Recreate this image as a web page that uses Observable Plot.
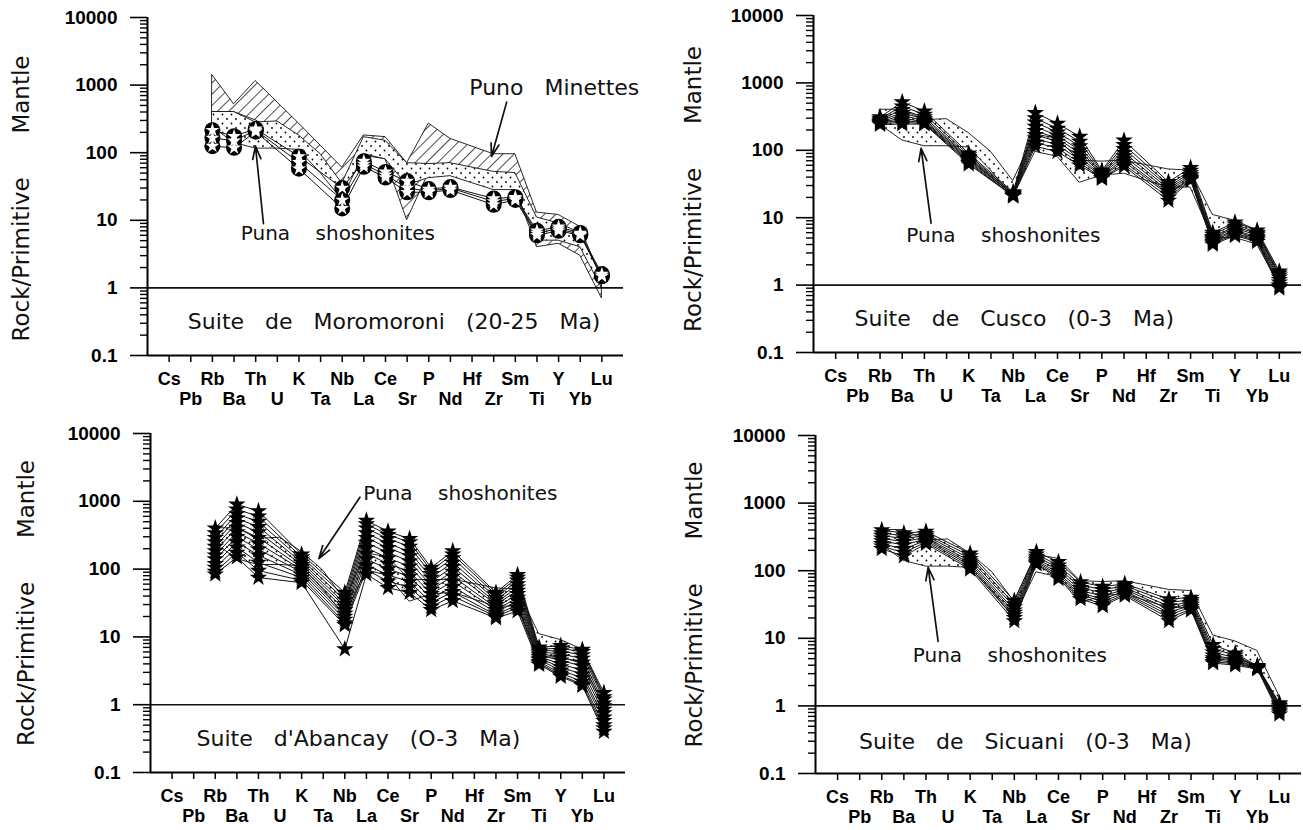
<!DOCTYPE html>
<html><head><meta charset="utf-8">
<script src="https://cdn.jsdelivr.net/npm/d3@7"></script>
<script src="https://cdn.jsdelivr.net/npm/@observablehq/plot@0.6"></script>
<style>
body{margin:0;background:#fff;}
#wrap{position:relative;width:1303px;height:830px;overflow:hidden;background:#fff;}
.panel{position:absolute;}
#defs{position:absolute;left:0;top:0;}
</style></head><body>
<div id="wrap">
<svg id="defs" width="0" height="0">
  <defs>
    <pattern id="hatch" patternUnits="userSpaceOnUse" width="8" height="8" patternTransform="rotate(45)">
      <rect width="8" height="8" fill="#fff"/>
      <line x1="0" y1="0" x2="0" y2="8" stroke="#000" stroke-width="1.4"/>
    </pattern>
    <pattern id="stipple" patternUnits="userSpaceOnUse" width="9" height="9">
      <rect width="9" height="9" fill="#fff"/>
      <circle cx="2" cy="2" r="0.9" fill="#000"/>
      <circle cx="6.5" cy="6.5" r="0.9" fill="#000"/>
    </pattern>
  </defs>
</svg>
</div>
<script>
// ---- Data ----
const elements = ["Cs","Pb","Rb","Ba","Th","U","K","Ta","Nb","La","Ce","Sr","P","Nd","Hf","Zr","Sm","Ti","Y","Yb","Lu"];
const sampleElements = ["Rb","Ba","Th","K","Nb","La","Ce","Sr","P","Nd","Zr","Sm","Ti","Y","Yb","Lu"];

const punaElements = ["Rb","Ba","Th","U","K","Ta","Nb","La","Ce","Sr","P","Nd","Zr","Sm","Ti","Y","Yb","Lu"];
const punaUpper = [400, 400, 280, 290, 180, 95, 35, 170, 150, 70, 68, 70, 52, 50, 11, 9, 6.5, 1.4];
const punaLower = [240, 140, 115, 115, 110, 50, 20, 95, 80, 33, 42, 45, 28, 28, 5, 5, 4, 1.0];

const minetteElements = ["Rb","Ba","Th","K","Nb","La","Ce","Sr","P","Nd","Zr","Sm","Ti","Y","Yb","Lu"];
const minetteUpper = [1400, 520, 1150, 270, 60, 180, 170, 70, 270, 160, 95, 95, 13, 12, 8, 1.3];
const minetteLower = [400, 400, 300, 150, 30, 90, 80, 10, 50, 50, 35, 30, 4, 4.5, 3, 0.7];

const moromoroni = [
  [215, 175, 225, 88, 30, 75, 52, 38, 29, 31, 21, 22, 7, 8, 6.5, 1.6],
  [165, 150, 215, 72, 20, 68, 47, 30, 27, 30, 19, 21, 6.5, 7.5, 6.2, 1.5],
  [125, 118, 205, 58, 15, 62, 43, 26, 26, 28, 17, 20, 6, 7, 6, 1.5]
];
const cusco = [
  [310, 520, 380, 90, 24, 360, 250, 160, 50, 140, 34, 55, 6, 8.5, 6.5, 1.6],
  [295, 450, 340, 85, 23, 300, 210, 135, 48, 120, 31, 50, 5.6, 8, 6, 1.5],
  [285, 400, 310, 80, 23, 260, 185, 115, 46, 105, 29, 46, 5.2, 7.4, 5.8, 1.4],
  [275, 360, 290, 77, 22, 225, 165, 100, 45, 92, 27, 43, 5, 7, 5.5, 1.3],
  [265, 330, 275, 74, 22, 195, 150, 90, 44, 82, 25, 41, 4.8, 6.5, 5.2, 1.2],
  [260, 300, 265, 71, 22, 170, 135, 80, 42, 74, 23, 39, 4.6, 6.2, 5, 1.1],
  [255, 280, 255, 68, 21, 150, 120, 72, 41, 68, 22, 38, 4.4, 5.8, 4.8, 1.0],
  [248, 260, 250, 65, 21, 130, 108, 65, 39, 62, 20, 37, 4.2, 5.6, 4.6, 0.95],
  [240, 245, 245, 62, 21, 115, 95, 60, 38, 58, 18, 36, 4, 5.4, 4.4, 0.9]
];
const abancay = [
  [400, 900, 720, 165, 45, 520, 360, 280, 105, 185, 45, 82, 7, 7.4, 6.5, 1.5],
  [340, 760, 600, 150, 40, 460, 320, 250, 95, 165, 42, 75, 6.6, 6.8, 6, 1.3],
  [290, 650, 500, 138, 35, 400, 280, 215, 85, 145, 38, 68, 6.3, 6.2, 5.4, 1.2],
  [250, 560, 420, 126, 31, 340, 240, 180, 75, 125, 35, 60, 6, 5.6, 4.8, 1.05],
  [215, 480, 350, 116, 28, 290, 205, 155, 65, 108, 32, 54, 5.7, 5, 4.2, 0.95],
  [185, 410, 290, 106, 25, 245, 175, 130, 57, 92, 30, 48, 5.4, 4.5, 3.7, 0.85],
  [160, 350, 240, 98, 22, 205, 145, 110, 50, 78, 27, 43, 5.1, 4, 3.2, 0.75],
  [140, 300, 195, 90, 20, 170, 120, 92, 43, 66, 25, 38, 4.8, 3.6, 2.8, 0.65],
  [120, 250, 160, 82, 18, 140, 100, 78, 37, 55, 23, 34, 4.6, 3.2, 2.5, 0.58],
  [105, 210, 125, 75, 16, 115, 82, 65, 32, 46, 21, 30, 4.3, 2.9, 2.2, 0.5],
  [92, 175, 95, 68, 15, 98, 66, 54, 28, 40, 20, 27, 4.1, 2.7, 2, 0.45],
  [84, 150, 75, 63, 6.6, 84, 53, 45, 25, 34, 19, 24, 3.9, 2.6, 1.9, 0.4]
];
const sicuani = [
  [400, 360, 380, 180, 36, 190, 135, 68, 58, 64, 38, 40, 8, 6, 3.9, 1.1],
  [360, 330, 350, 165, 32, 175, 120, 62, 52, 60, 34, 37, 7, 5.6, 3.8, 1.05],
  [330, 300, 330, 150, 29, 162, 110, 56, 47, 56, 30, 35, 6.2, 5.2, 3.8, 1.0],
  [300, 270, 310, 138, 26, 152, 100, 51, 42, 53, 27, 33, 5.6, 4.9, 3.7, 0.95],
  [275, 240, 295, 128, 24, 143, 92, 47, 38, 50, 24, 31, 5.1, 4.6, 3.7, 0.9],
  [250, 210, 280, 120, 22, 136, 86, 44, 35, 47, 22, 29, 4.8, 4.4, 3.6, 0.85],
  [230, 185, 265, 112, 20, 130, 80, 41, 32, 45, 20, 27, 4.5, 4.2, 3.6, 0.8],
  [210, 165, 250, 105, 18, 125, 76, 38, 30, 43, 18, 26, 4.3, 4, 3.5, 0.75]
];

const yMajorTicks = [0.1, 1, 10, 100, 1000, 10000];
const yMajorLabels = ["0.1", "1", "10", "100", "1000", "10000"];
const yMinorTicks = [0.2,0.3,0.4,0.5,0.6,0.7,0.8,0.9, 2,3,4,5,6,7,8,9, 20,30,40,50,60,70,80,90,
  200,300,400,500,600,700,800,900, 2000,3000,4000,5000,6000,7000,8000,9000];
const yTitle = "Rock/Primitive\u00a0\u00a0\u00a0\u00a0\u00a0\u00a0Mantle";
const shoshLabel = "Puna\u00a0\u00a0\u00a0\u00a0shoshonites";
const minetteLabel = "Puno\u00a0\u00a0\u00a0Minettes";
const suiteTitles = [
  "Suite\u00a0\u00a0\u00a0de\u00a0\u00a0\u00a0Moromoroni\u00a0\u00a0\u00a0(20-25\u00a0\u00a0\u00a0Ma)",
  "Suite\u00a0\u00a0\u00a0de\u00a0\u00a0\u00a0Cusco\u00a0\u00a0\u00a0(0-3\u00a0\u00a0\u00a0Ma)",
  "Suite\u00a0\u00a0\u00a0d'Abancay\u00a0\u00a0\u00a0(O-3\u00a0\u00a0\u00a0Ma)",
  "Suite\u00a0\u00a0\u00a0de\u00a0\u00a0\u00a0Sicuani\u00a0\u00a0\u00a0(0-3\u00a0\u00a0\u00a0Ma)"
];

// ---- helpers ----
const pos = e => elements.indexOf(e) + 1;
const oddTicks = elements.map((e, i) => i + 1).filter(i => i % 2 === 1);
const evenTicks = elements.map((e, i) => i + 1).filter(i => i % 2 === 0);
const annFont = "'DejaVu Sans', Verdana, sans-serif";
const tickFont = "'Liberation Sans', Arial, sans-serif";

function field(names, lo, hi) {
  return names.map((e, i) => ({x: pos(e), lo: lo[i], hi: hi[i]}));
}
function samples(rows) {
  return rows.flatMap((vals, s) => vals.map((v, i) => ({s, x: pos(sampleElements[i]), v})));
}

function panel(cfg) {
  const lineData = samples(cfg.rows);
  const marks = [];
  if (cfg.minettes) {
    marks.push(Plot.areaY(field(minetteElements, minetteLower, minetteUpper),
      {x: "x", y1: "lo", y2: "hi", fill: "url(#hatch)", stroke: "#111", strokeWidth: 0.9}));
  }
  marks.push(Plot.areaY(field(punaElements, punaLower, punaUpper),
    {x: "x", y1: "lo", y2: "hi", fill: "url(#stipple)", stroke: "#111", strokeWidth: 0.9}));
  marks.push(Plot.ruleY([1], {stroke: "#111", strokeWidth: 1.6}));
  marks.push(Plot.line(lineData, {x: "x", y: "v", z: "s", stroke: "#111", strokeWidth: 1}));
  if (cfg.marker === "circle") {
    marks.push(Plot.dot(lineData, {x: "x", y: "v", r: 8, fill: "#000", stroke: "none"}));
    marks.push(Plot.dot(lineData, {x: "x", y: "v", r: 4.4, symbol: "star", fill: "#fff", stroke: "none"}));
  } else {
    marks.push(Plot.dot(lineData, {x: "x", y: "v", r: 5.5, symbol: "star", fill: "#000", stroke: "none"}));
  }
  // axes
  marks.push(Plot.ruleX([0], {stroke: "#000", strokeWidth: 2}));
  marks.push(Plot.ruleY([0.1], {stroke: "#000", strokeWidth: 2}));
  marks.push(Plot.axisY({ticks: yMinorTicks, tickSize: 7, tickFormat: () => "", strokeWidth: 1.4, label: null}));
  marks.push(Plot.axisY({ticks: yMajorTicks, tickSize: 17, tickPadding: 13, strokeWidth: 1.6,
    tickFormat: d => yMajorLabels[yMajorTicks.indexOf(d)], fontSize: 19, fontWeight: "bold", fontFamily: tickFont, label: null}));
  marks.push(Plot.axisX({ticks: oddTicks, tickSize: 7, tickPadding: 10, strokeWidth: 1.5,
    tickFormat: i => elements[i - 1], fontSize: 18, fontWeight: "bold", fontFamily: tickFont, label: null}));
  marks.push(Plot.axisX({ticks: evenTicks, tickSize: 7, tickPadding: 30, strokeWidth: 1.5,
    tickFormat: i => elements[i - 1], fontSize: 18, fontWeight: "bold", fontFamily: tickFont, label: null}));
  // y title
  marks.push(Plot.text([yTitle], {frameAnchor: "left", dx: cfg.titleDx, dy: cfg.titleDy, rotate: -90, fontSize: 23,
    textAnchor: "middle", fontFamily: annFont, fill: "#111"}));
  // annotations
  marks.push(Plot.text(cfg.texts, {x: "x", y: "y", text: "t", fontSize: "size", fontFamily: annFont, fill: "#111", textAnchor: "middle"}));
  marks.push(Plot.arrow(cfg.arrows, {x1: "x1", y1: "y1", x2: "x2", y2: "y2", stroke: "#111", strokeWidth: 1.7, headLength: 12, headAngle: 35}));

  const svg = Plot.plot({
    width: cfg.w, height: cfg.h,
    marginLeft: cfg.ml, marginRight: cfg.mr, marginTop: cfg.mt, marginBottom: cfg.mb,
    x: {domain: [0, 22], axis: null},
    y: {type: "log", domain: [0.1, 10000], axis: null},
    style: {background: "transparent", overflow: "visible", color: "#000"},
    marks
  });
  svg.classList.add("panel");
  svg.style.left = cfg.left + "px";
  svg.style.top = cfg.top + "px";
  document.getElementById("wrap").appendChild(svg);
}

panel({
  rows: moromoroni, marker: "circle", minettes: true,
  left: 0, top: 0, w: 650, h: 410, ml: 147, mr: 27, mt: 17, mb: 55, titleDx: -126, titleDy: 12,
  texts: [
    {x: 18.8, y: 900, t: minetteLabel, size: 22},
    {x: 8.8, y: 6.3, t: shoshLabel, size: 20},
    {x: 11.4, y: 0.31, t: suiteTitles[0], size: 22}
  ],
  arrows: [
    {x1: 16.6, y1: 560, x2: 15.9, y2: 88},
    {x1: 5.36, y1: 8.9, x2: 4.99, y2: 125}
  ]
});
panel({
  rows: cusco, marker: "star", minettes: false,
  left: 650, top: 0, w: 653, h: 410, ml: 163, mr: 2, mt: 15, mb: 58, titleDx: -120, titleDy: 5,
  texts: [
    {x: 8.56, y: 5.4, t: shoshLabel, size: 20},
    {x: 9.05, y: 0.31, t: suiteTitles[1], size: 22}
  ],
  arrows: [
    {x1: 5.3, y1: 8.3, x2: 4.85, y2: 107}
  ]
});
panel({
  rows: abancay, marker: "star", minettes: false,
  left: 0, top: 410, w: 650, h: 420, ml: 150, mr: 25, mt: 23, mb: 58, titleDx: -124, titleDy: 0,
  texts: [
    {x: 14.35, y: 1300, t: shoshLabel, size: 20},
    {x: 9.63, y: 0.31, t: suiteTitles[2], size: 22}
  ],
  arrows: [
    {x1: 9.7, y1: 1150, x2: 7.8, y2: 143}
  ]
});
panel({
  rows: sicuani, marker: "star", minettes: false,
  left: 650, top: 410, w: 653, h: 420, ml: 165, mr: 2, mt: 25, mb: 57, titleDx: -121, titleDy: 0,
  texts: [
    {x: 8.8, y: 5.6, t: shoshLabel, size: 20},
    {x: 9.5, y: 0.29, t: suiteTitles[3], size: 22}
  ],
  arrows: [
    {x1: 5.55, y1: 9.0, x2: 5.1, y2: 112}
  ]
});
</script>
</body></html>
